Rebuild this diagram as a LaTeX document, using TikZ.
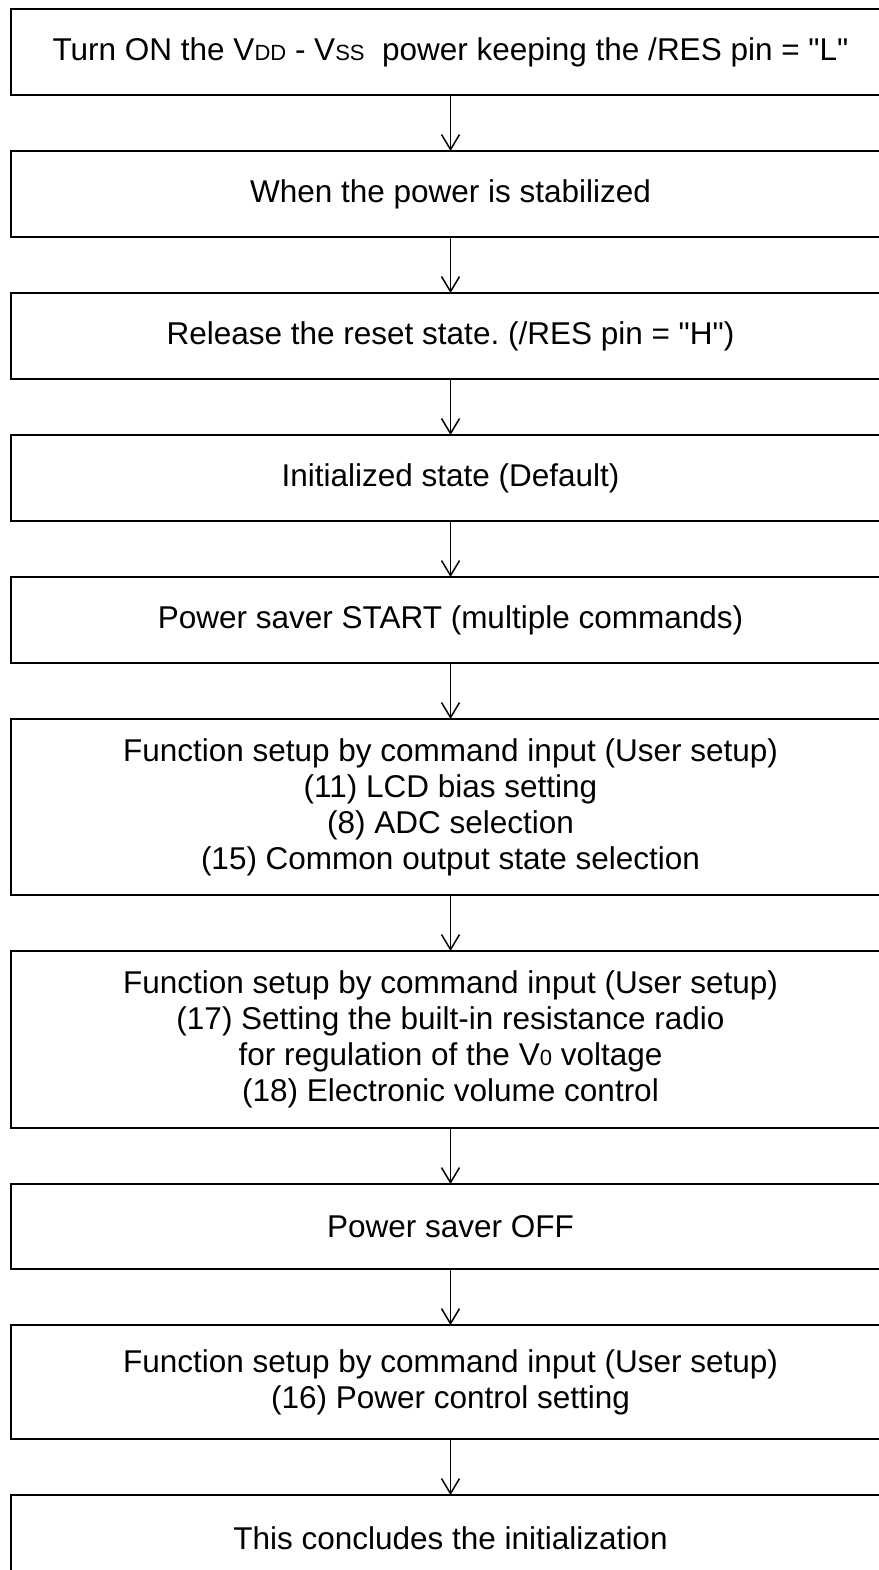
\documentclass[tikz,border=0pt]{standalone}
\usepackage{fontspec}
\setmainfont{Liberation Sans}
\usetikzlibrary{arrows.meta,positioning}
\tikzset{
    >={Straight Barb[length=15pt,width=18pt]},
    every picture/.style={line width=1.5pt},
    stepbox/.style={rectangle,draw,line width=2pt,outer sep=0pt,inner sep=0pt,
        minimum width=879pt,align=center,font=\fontsize{31.5}{36}\selectfont}
}
\newcommand{\lowtag}[1]{{\fontsize{22}{22}\selectfont #1}}
\frenchspacing

\begin{document}
\begin{tikzpicture}[node distance=56pt]
    \useasboundingbox (0,0) rectangle (878pt,-1570pt);

    % Power-on sequence
    \node[stepbox,minimum height=86pt,anchor=north west] (poweron) at (11pt,-9pt)
        {Turn ON the V\lowtag{DD} - V\lowtag{SS}\ \ power keeping the /RES pin = \textquotedbl L\textquotedbl};
    \node[stepbox,minimum height=86pt,below=of poweron] (stable)
        {When the power is stabilized};
    \node[stepbox,minimum height=86pt,below=of stable] (release)
        {Release the reset state. (/RES pin = \textquotedbl H\textquotedbl)};
    \node[stepbox,minimum height=86pt,below=of release] (initstate)
        {Initialized state (Default)};
    \node[stepbox,minimum height=86pt,below=of initstate] (saverstart)
        {Power saver START (multiple commands)};

    % User setup
    \node[stepbox,minimum height=176pt,below=of saverstart] (setupa)
        {Function setup by command input (User setup)\\
         (11) LCD bias setting\\
         (8) ADC selection\\
         (15) Common output state selection};
    \node[stepbox,minimum height=177pt,below=of setupa] (setupb)
        {Function setup by command input (User setup)\\
         (17) Setting the built-in resistance radio\\
         for regulation of the V\lowtag{0} voltage\\
         (18) Electronic volume control};
    \node[stepbox,minimum height=85pt,below=of setupb] (saveroff)
        {Power saver OFF};
    \node[stepbox,minimum height=114pt,below=of saveroff] (setupc)
        {Function setup by command input (User setup)\\
         (16) Power control setting};
    \node[stepbox,minimum height=86pt,below=of setupc] (done)
        {This concludes the initialization};

    % Connectors
    \foreach \from/\to in {poweron/stable,stable/release,release/initstate,
        initstate/saverstart,saverstart/setupa,setupa/setupb,setupb/saveroff,
        saveroff/setupc,setupc/done}
        \draw[->] (\from) -- (\to);
\end{tikzpicture}
\end{document}
